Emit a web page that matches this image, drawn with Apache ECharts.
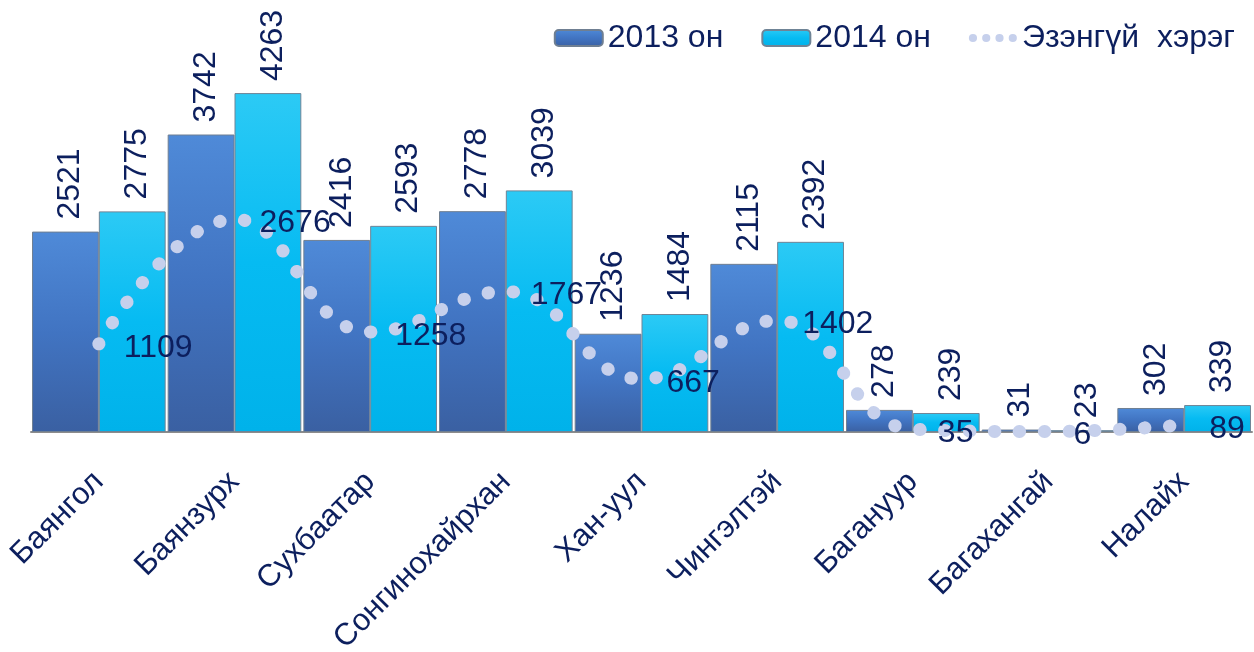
<!DOCTYPE html>
<html><head><meta charset="utf-8">
<script src="https://cdn.jsdelivr.net/npm/echarts@6/dist/echarts.min.js"></script>
<style>html,body{margin:0;padding:0;background:#fff}#c{width:1254px;height:652px}</style>
</head><body><div id="c"></div>
<script>
const categories = ['Баянгол','Баянзурх','Сухбаатар','Сонгинохайрхан','Хан-уул','Чингэлтэй','Багануур','Багахангай','Налайх'];
const values2013 = [2521,3742,2416,2778,1236,2115,278,31,302];
const values2014 = [2775,4263,2593,3039,1484,2392,239,23,339];
const valuesOwnerless = [1109,2676,1258,1767,667,1402,35,6,89];
const seriesNames = ['2013 он','2014 он','Эзэнгүй  хэрэг'];

const FONT = "'Liberation Sans', Arial, sans-serif";
const TEXT = '#0c1f5e';
const dotColor = '#c6d0ec';

function grad(top, mid, bottom){
  return new echarts.graphic.LinearGradient(0,0,0,1,[
    {offset:0,color:top},{offset:0.5,color:mid},{offset:1,color:bottom}]);
}

const barLabel = {
  show:true, position:'top', rotate:90, align:'left', verticalAlign:'middle',
  distance:12, offset:[0,5], color:TEXT, fontFamily:FONT, fontSize:32
};

const chart = echarts.init(document.getElementById('c'), null, {renderer:'canvas'});
chart.setOption({
  animation:false,
  backgroundColor:'#ffffff',
  grid:{left:31, right:2, top:34.5, bottom:220, containLabel:false, outerBoundsMode:'none'},
  legend:{
    right:14, top:17, itemWidth:48, itemHeight:16, itemGap:38,
    textStyle:{color:TEXT, fontFamily:FONT, fontSize:32},
    data:[
      {name:seriesNames[0]},
      {name:seriesNames[1]},
      {name:seriesNames[2], icon:'path://M0,4a4,4 0 1,0 8,0a4,4 0 1,0 -8,0M13,4a4,4 0 1,0 8,0a4,4 0 1,0 -8,0M26,4a4,4 0 1,0 8,0a4,4 0 1,0 -8,0M39,4a4,4 0 1,0 8,0a4,4 0 1,0 -8,0',
       itemStyle:{color:dotColor, opacity:1, borderWidth:0}}
    ]
  },
  xAxis:{
    type:'category', data:categories,
    axisLine:{show:true, lineStyle:{color:'#8c8c8c', width:2}},
    axisTick:{show:false},
    axisLabel:{rotate:45, margin:45, color:TEXT, fontFamily:FONT, fontSize:31, interval:0}
  },
  yAxis:{type:'value', min:0, max:5000, show:false, splitLine:{show:false}},
  series:[
    {name:seriesNames[0], type:'bar', data:values2013, barGap:'0%', barCategoryGap:'1.5%',
     itemStyle:{color:grad('#4f8ad8','#4174c2','#3a60a2'), borderColor:'#6f7f92', borderWidth:1},
     label:barLabel},
    {name:seriesNames[1], type:'bar', data:values2014,
     itemStyle:{color:grad('#2ccaf5','#06bbf2','#00b2ea'), borderColor:'#6f8496', borderWidth:1},
     label:barLabel},
    {name:seriesNames[2], type:'line', data:valuesOwnerless, smooth:0.45,
     symbol:'circle', symbolSize:2, showSymbol:true, z:5,
     itemStyle:{color:'rgba(0,0,0,0)', borderWidth:0},
     lineStyle:{color:dotColor, width:13, type:[0.5,24.5], cap:'round'},
     label:{show:true, position:'right', distance:24, offset:[0,4], color:TEXT, fontFamily:FONT, fontSize:32}}
  ]
});
</script></body></html>
